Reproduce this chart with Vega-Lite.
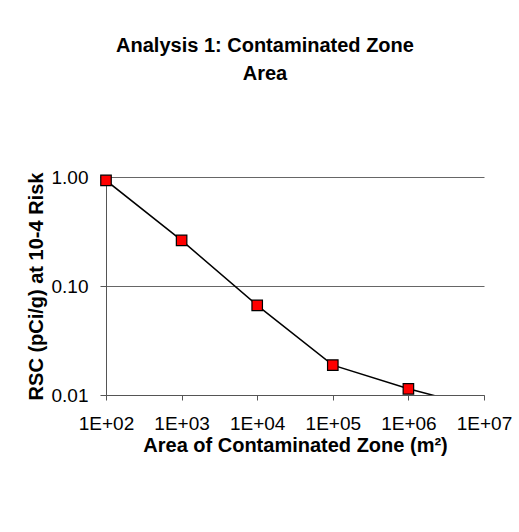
{
  "$schema": "https://vega.github.io/schema/vega-lite/v6.json",
  "autosize": {"type": "none"},
  "width": 378,
  "height": 218,
  "padding": {"left": 106, "top": 177, "right": 35, "bottom": 137},
  "background": "white",
  "title": {
    "text": ["Analysis 1: Contaminated Zone", "Area"],
    "font": "Liberation Sans",
    "fontSize": 20,
    "fontWeight": "bold",
    "color": "black",
    "anchor": "middle",
    "dx": -30,
    "offset": 84,
    "lineHeight": 28
  },
  "data": {
    "values": [
      {"area": 100, "rsc": 0.93},
      {"area": 1000, "rsc": 0.262},
      {"area": 10000, "rsc": 0.0664},
      {"area": 100000, "rsc": 0.0188},
      {"area": 1000000, "rsc": 0.0114},
      {"area": 10000000, "rsc": 0.0075}
    ]
  },
  "encoding": {
    "x": {
      "field": "area",
      "type": "quantitative",
      "scale": {"type": "log", "domain": [100, 10000000], "nice": false},
      "axis": {
        "title": "Area of Contaminated Zone (m²)",
        "values": [100, 1000, 10000, 100000, 1000000, 10000000],
        "labelExpr": "'1E+0' + round(log(datum.value) / LN10)",
        "labelOverlap": false,
        "labelFlush": false,
        "grid": false,
        "tickSize": 5,
        "labelPadding": 14,
        "titlePadding": 2
      }
    },
    "y": {
      "field": "rsc",
      "type": "quantitative",
      "scale": {"type": "log", "domain": [0.01, 1], "nice": false},
      "axis": {
        "title": "RSC (pCi/g) at 10-4 Risk",
        "values": [0.01, 0.1, 1],
        "format": ".2f",
        "labelOverlap": false,
        "labelFlush": false,
        "grid": true,
        "tickSize": 6,
        "labelPadding": 12,
        "titlePadding": 5
      }
    }
  },
  "layer": [
    {"mark": {"type": "line", "color": "black", "strokeWidth": 1.5, "clip": true}},
    {
      "transform": [{"filter": "datum.rsc >= 0.01"}],
      "mark": {"type": "point", "shape": "square", "filled": true, "fill": "#ff0000", "stroke": "black", "strokeWidth": 1.2, "size": 110, "opacity": 1}
    }
  ],
  "config": {
    "view": {"stroke": null},
    "axis": {
      "labelFont": "Liberation Sans",
      "labelFontSize": 19,
      "labelColor": "black",
      "titleFont": "Liberation Sans",
      "titleFontSize": 20,
      "titleFontWeight": "bold",
      "titleColor": "black",
      "domainColor": "#555555",
      "tickColor": "#555555",
      "gridColor": "#666666",
      "gridWidth": 1,
      "domainWidth": 1,
      "tickWidth": 1
    }
  }
}
